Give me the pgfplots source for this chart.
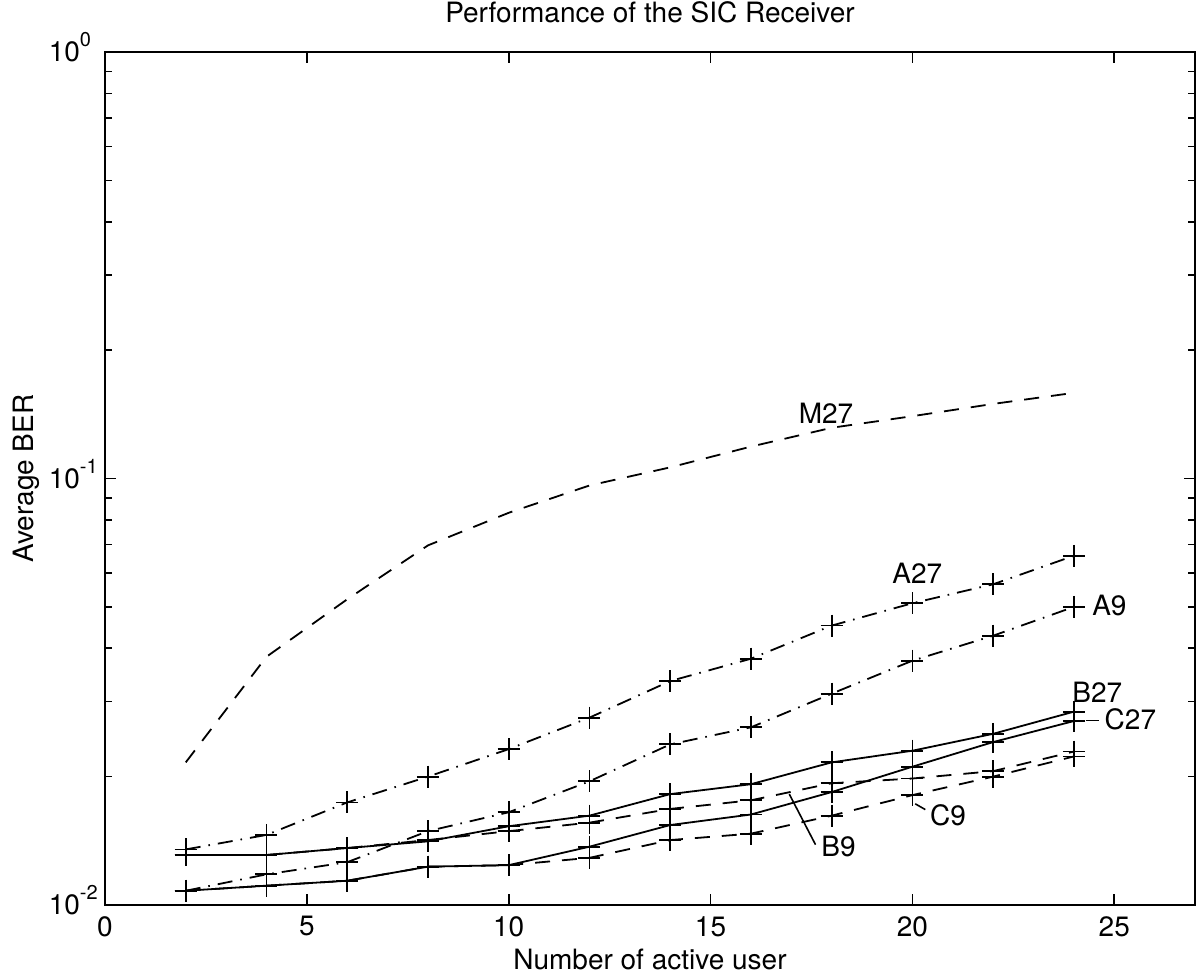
\documentclass[border=0pt]{standalone}
\usepackage{fontspec}
\setmainfont{TeX Gyre Heros}
\usepackage{pgfplots}
\pgfplotsset{compat=1.18}
\newcommand{\tenexp}[1]{10\rlap{\smash{\raisebox{7.5pt}{\fontsize{10}{10}\selectfont #1}}}}
\begin{document}
\begin{tikzpicture}[font=\fontsize{14}{16}\selectfont]
\begin{axis}[
  name=ax,
  scale only axis, width=545pt, height=426.5pt,
  xmin=0, xmax=27, ymode=log, ymin=0.01, ymax=1,
  clip=false,
  xtick={0,5,10,15,20,25}, xticklabels={0,5,10,15,20,25},
  ytick={0.01,0.1,1},
  yticklabels={\tenexp{-2},\tenexp{-1},\tenexp{0}},
  minor ytick={0.02,0.03,0.04,0.05,0.06,0.07,0.08,0.09,0.2,0.3,0.4,0.5,0.6,0.7,0.8,0.9},
  tick align=inside,
  major tick length=5.5pt, minor tick length=3.5pt,
  every tick/.style={black, line width=0.8pt},
  axis line style={line width=0.9pt},
  xticklabel style={font=\fontsize{14}{16}\selectfont, yshift=-4.5pt, inner sep=1pt},
  yticklabel style={font=\fontsize{14}{16}\selectfont, anchor=east, xshift=-9pt},
  title={Performance of the SIC Receiver},
  title style={at={(0.5,1)}, anchor=base, yshift=8.5pt, inner sep=1pt, font=\fontsize{14}{16}\selectfont},
  xlabel={Number of active user},
  xlabel style={at={(0.5,0)}, anchor=base, yshift=-32pt, inner sep=1pt, font=\fontsize{14}{16}\selectfont},
  ylabel={Average BER},
  ylabel style={at={(0,0.5)}, anchor=base, yshift=35.5pt, font=\fontsize{14}{16}\selectfont},
  every axis plot/.append style={line width=0.9pt, black},
]
% M27
\addplot[dash pattern=on 7.5pt off 6pt, no marks] coordinates {
(2,0.0216) (4,0.0382) (6,0.0521) (8,0.0697) (10,0.0831) (12,0.0963)
(14,0.1062) (16,0.1188) (18,0.1315) (20,0.1400) (22,0.1496) (24,0.1588)};
% A27
\addplot[dash pattern=on 7.5pt off 4pt on 0.8pt off 4pt, mark=+, mark size=5.5pt, mark options={solid}] coordinates {
(2,0.0135) (4,0.0146) (6,0.0174) (8,0.0200) (10,0.0232) (12,0.0275)
(14,0.0335) (16,0.0378) (18,0.0452) (20,0.0510) (22,0.0565) (24,0.0659)};
% A9
\addplot[dash pattern=on 7.5pt off 4pt on 0.8pt off 4pt, mark=+, mark size=5.5pt, mark options={solid}] coordinates {
(2,0.0108) (4,0.0118) (6,0.0126) (8,0.0149) (10,0.0165) (12,0.0195)
(14,0.0238) (16,0.0261) (18,0.0313) (20,0.0374) (22,0.0428) (24,0.0500)};
% B27
\addplot[solid, mark=+, mark size=5.5pt] coordinates {
(2,0.0131) (4,0.0131) (6,0.0136) (8,0.0141) (10,0.0153) (12,0.0162)
(14,0.0182) (16,0.0192) (18,0.0216) (20,0.0230) (22,0.0252) (24,0.0284)};
% C27
\addplot[solid, mark=+, mark size=5.5pt] coordinates {
(2,0.0108) (4,0.0111) (6,0.0114) (8,0.0123) (10,0.0124) (12,0.0137)
(14,0.0154) (16,0.0163) (18,0.0184) (20,0.0211) (22,0.0241) (24,0.0270)};
% B9
\addplot[dash pattern=on 7.5pt off 6pt, mark=+, mark size=5.5pt, mark options={solid}] coordinates {
(2,0.0131) (4,0.0131) (6,0.0136) (8,0.0142) (10,0.0149) (12,0.0156)
(14,0.0168) (16,0.0176) (18,0.0193) (20,0.0198) (22,0.0206) (24,0.0229)};
% C9
\addplot[dash pattern=on 7.5pt off 6pt, mark=+, mark size=5.5pt, mark options={solid}] coordinates {
(2,0.0108) (4,0.0111) (6,0.0114) (8,0.0123) (10,0.0124) (12,0.0129)
(14,0.0142) (16,0.0147) (18,0.0162) (20,0.0181) (22,0.0200) (24,0.0223)};
% labels
\node at (axis cs:17.86,0.1419) {M27};
\node at (axis cs:20.12,0.0600) {A27};
\node at (axis cs:24.88,0.0504) {A9};
\node at (axis cs:24.58,0.0316) {B27};
\node at (axis cs:25.40,0.0272) {C27};
\draw[line width=0.8pt] (axis cs:24.29,0.02706) -- (axis cs:24.62,0.02706);
\node at (axis cs:18.17,0.01374) {B9};
\draw[line width=0.8pt] (axis cs:16.95,0.0182) -- (axis cs:17.6,0.01385);
\node at (axis cs:20.88,0.01625) {C9};
\draw[line width=0.8pt] (axis cs:20.07,0.01727) -- (axis cs:20.32,0.01674);
\end{axis}
\pgfresetboundingbox
\path[use as bounding box] (ax.south west) ++(-52.5pt,-36.5pt) rectangle ++(599pt,489pt);
\end{tikzpicture}
\end{document}
